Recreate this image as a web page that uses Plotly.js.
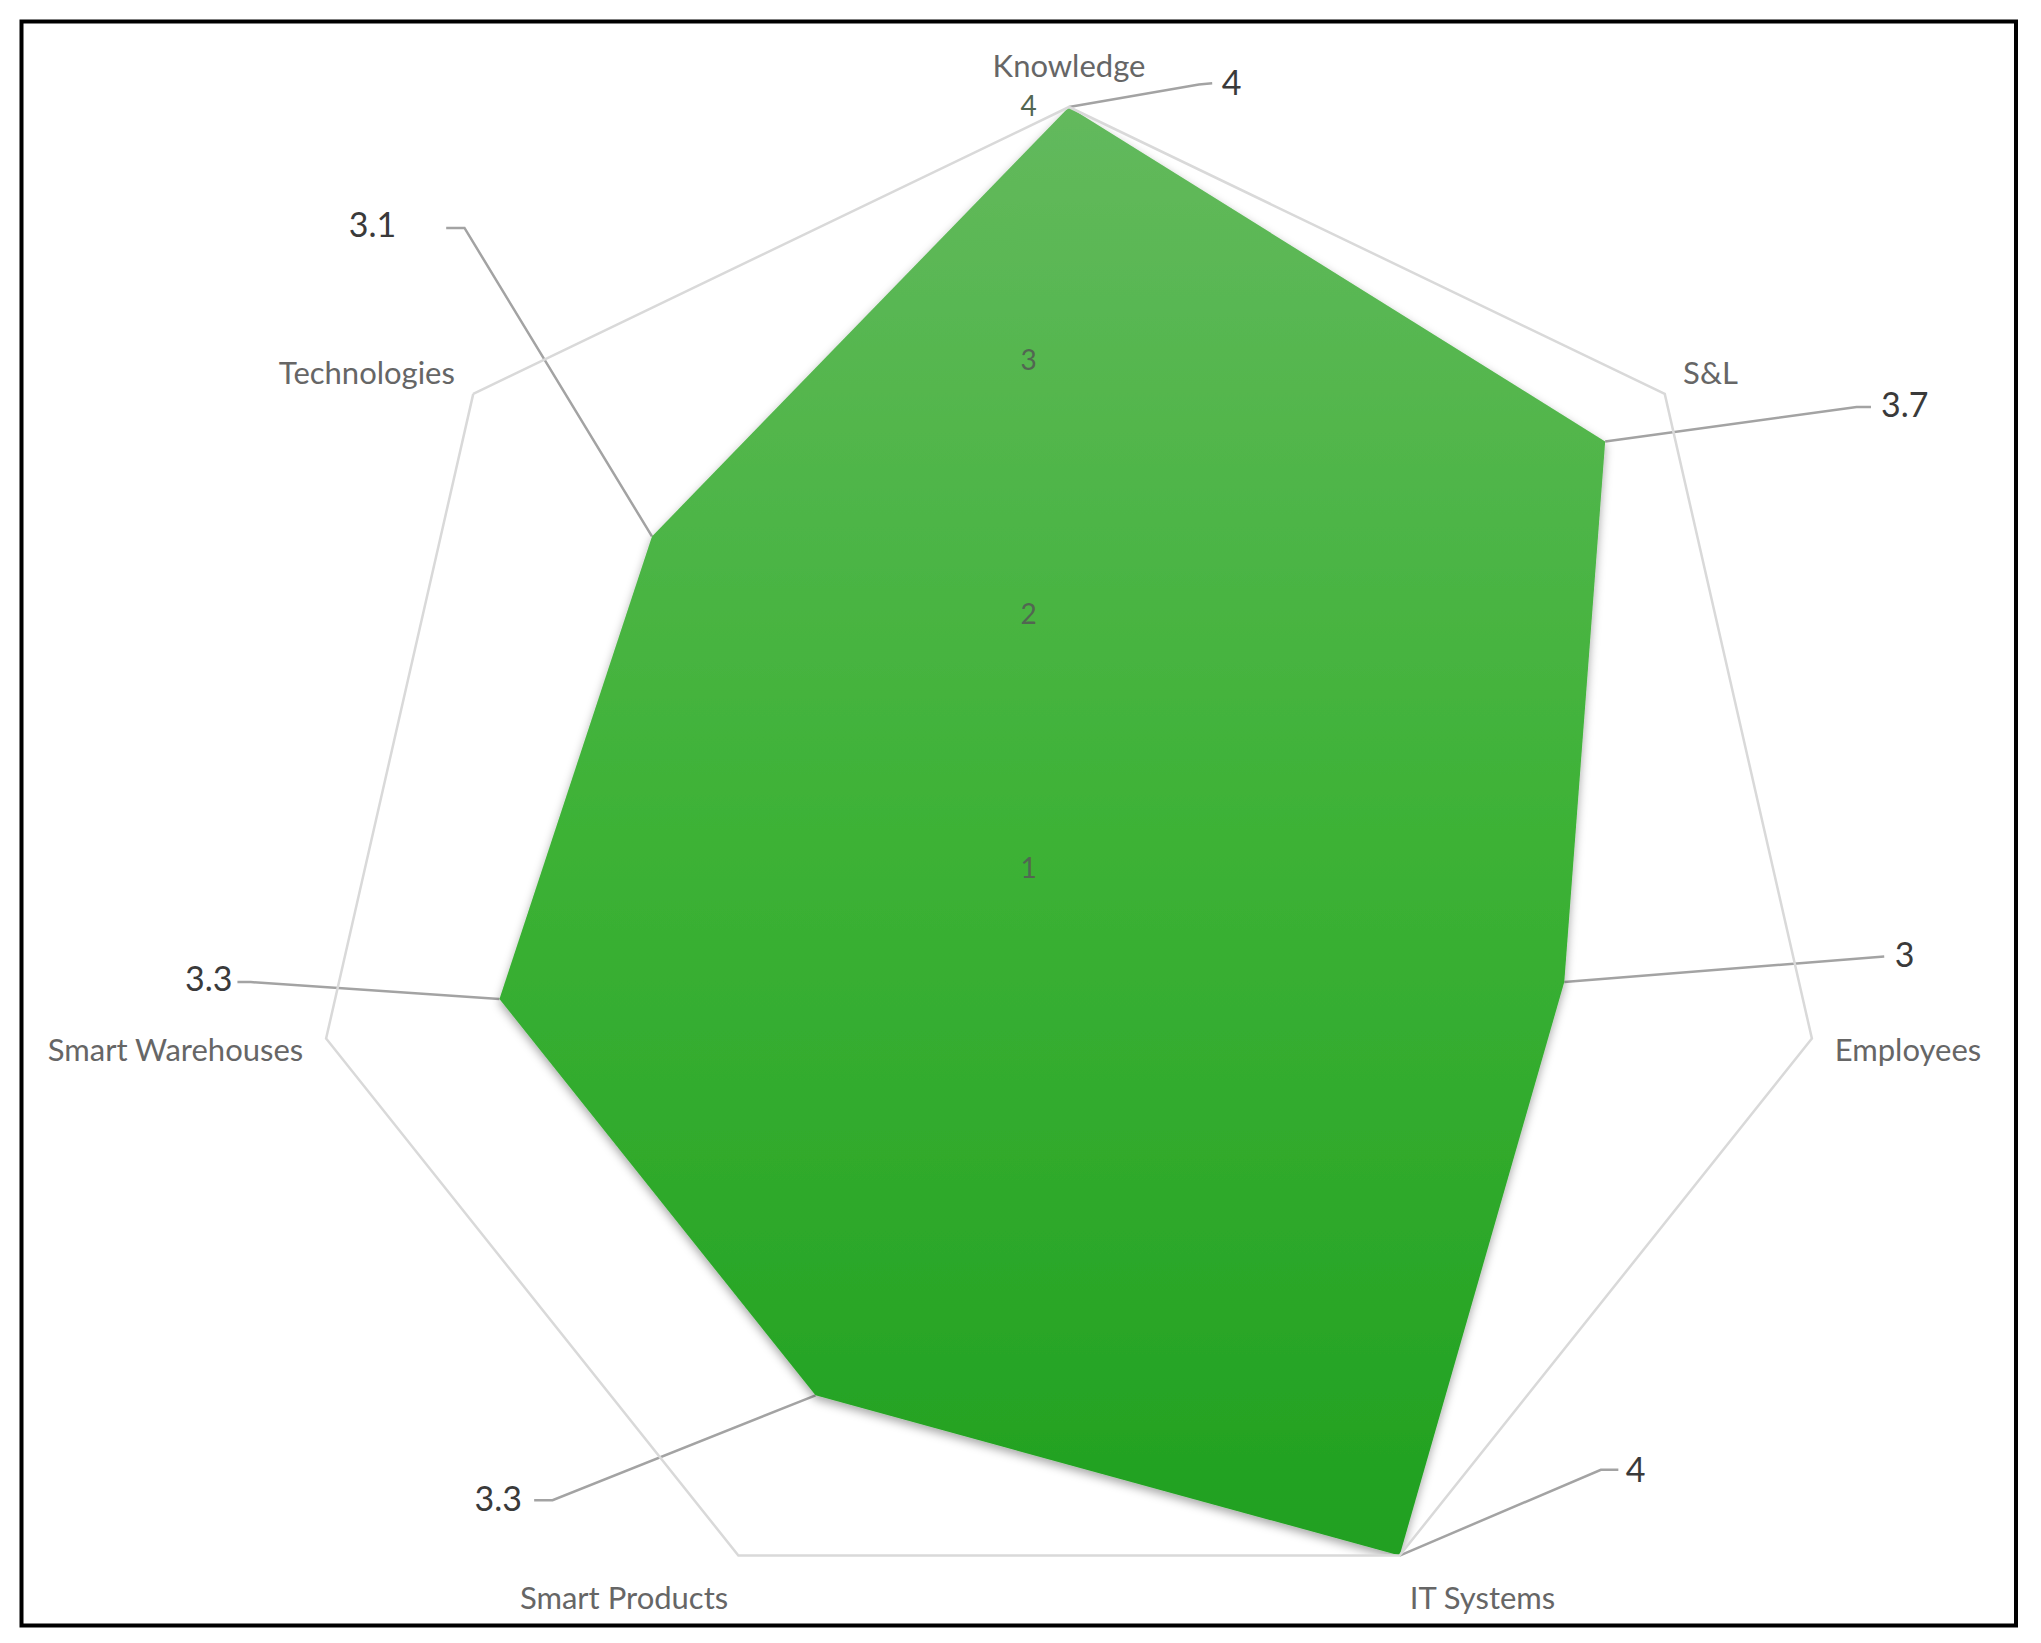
<!DOCTYPE html>
<html>
<head>
<meta charset="utf-8">
<script src="https://cdn.plot.ly/plotly-3.0.1.min.js"></script>
<style>
html,body{margin:0;padding:0;background:#ffffff;}
#chart{width:2041px;height:1643px;}
</style>
</head>
<body>
<div id="chart"></div>
<script>
// ---- data ----
const categories = ['Knowledge', 'S&L', 'Employees', 'IT Systems', 'Smart Products', 'Smart Warehouses', 'Technologies'];
const values = [4, 3.7, 3, 4, 3.3, 3.3, 3.1];
const radialTicks = [1, 2, 3, 4];

// ---- callout (data label) placement, polar coords: r and angle (deg, clockwise from top) ----
const elbowR = [4.131, 4.595, 4.152, 4.159, 4.211, 4.252, 4.469];
const elbowT = [9.4, 59.6, 96.34, 138.48, 219.29, 262.13, 316.68];
const endR   = [4.144, 4.644, 4.228, 4.205, 4.257, 4.304, 4.519];
const endT   = [10.33, 60.05, 96.13, 137.56, 220.28, 262.26, 315.83];
const labelR = [4.147, 4.756, 4.309, 4.262, 4.356, 4.416, 4.724];
const labelT = [11.74, 61.16, 96.11, 136.86, 222.03, 262.51, 312.58];

// ---- geometry ----
const W = 2041, H = 1643;
const CX = 1069, CY = 869, RAD = 762;
const rMin = radialTicks[0], rMax = radialTicks[radialTicks.length - 1];
const PPU = RAD / (rMax - rMin);
const domX = [(CX - RAD) / W, (CX + RAD) / W];
const domY = [(H - CY - RAD) / H, (H - CY + RAD) / H];
const catAngle = categories.map((c, i) => i * 360 / categories.length);

// polar value -> overlay (cartesian, same units as the radial axis) position
function px(r, t) { return (r - rMin) * Math.sin(t * Math.PI / 180); }
function py(r, t) { return (r - rMin) * Math.cos(t * Math.PI / 180); }

const leadX = [], leadY = [];
values.forEach((v, i) => {
  leadX.push(px(v, catAngle[i]), px(elbowR[i], elbowT[i]), px(endR[i], endT[i]), null);
  leadY.push(py(v, catAngle[i]), py(elbowR[i], elbowT[i]), py(endR[i], endT[i]), null);
});

const FONT = 'Lato, "Open Sans", sans-serif';

const traces = [
  {
    type: 'scatter',
    xaxis: 'x', yaxis: 'y',
    x: leadX, y: leadY,
    mode: 'lines',
    connectgaps: false,
    cliponaxis: false,
    line: { color: '#a3a3a3', width: 2.5 },
    hoverinfo: 'skip',
    showlegend: false
  },
  {
    type: 'scatter',
    xaxis: 'x', yaxis: 'y',
    x: labelR.map((r, i) => px(r, labelT[i])),
    y: labelR.map((r, i) => py(r, labelT[i])),
    mode: 'text',
    text: values.map(String),
    textposition: 'middle center',
    textfont: { family: FONT, size: 34, color: '#3a3a3a' },
    cliponaxis: false,
    hoverinfo: 'skip',
    showlegend: false
  },
  {
    type: 'scatterpolar',
    subplot: 'polar',
    r: values.concat([values[0]]),
    theta: categories.concat([categories[0]]),
    mode: 'lines',
    fill: 'toself',
    fillcolor: '#3db135',
    line: { color: 'rgba(0,0,0,0)', width: 0 },
    hoverinfo: 'skip',
    showlegend: false
  }
];

const layout = {
  width: W, height: H,
  margin: { l: 0, r: 0, t: 0, b: 0 },
  paper_bgcolor: '#ffffff',
  plot_bgcolor: 'rgba(0,0,0,0)',
  showlegend: false,
  font: { family: FONT },
  xaxis: {
    domain: [0, 1], range: [-CX / PPU, (W - CX) / PPU],
    visible: false, showgrid: false, zeroline: false, fixedrange: true
  },
  yaxis: {
    domain: [0, 1], range: [-(H - CY) / PPU, CY / PPU],
    visible: false, showgrid: false, zeroline: false, fixedrange: true
  },
  polar: {
    domain: { x: domX, y: domY },
    gridshape: 'linear',
    bgcolor: 'rgba(0,0,0,0)',
    angularaxis: {
      type: 'category',
      categoryarray: categories,
      rotation: 90,
      direction: 'clockwise',
      showgrid: false,
      showline: true,
      linecolor: '#d9d9d9',
      linewidth: 2.5,
      ticks: 'outside',
      ticklen: 16,
      tickcolor: 'rgba(0,0,0,0)',
      tickfont: { family: FONT, size: 31, color: '#666666' }
    },
    radialaxis: {
      range: [rMin, rMax],
      tickvals: radialTicks,
      ticktext: radialTicks.map(String),
      showgrid: false,
      showline: false,
      ticks: 'outside',
      ticklen: 22,
      tickcolor: 'rgba(0,0,0,0)',
      tickangle: 90,
      angle: 90,
      side: 'counterclockwise',
      layer: 'above traces',
      tickfont: { family: FONT, size: 28, color: '#526652' }
    }
  },
  shapes: [{
    type: 'rect', xref: 'paper', yref: 'paper',
    x0: 21.5 / W, x1: 2016 / W, y0: 1 - 1625.5 / H, y1: 1 - 21.5 / H,
    line: { color: '#000000', width: 4 }, fillcolor: 'rgba(0,0,0,0)'
  }]
};

Plotly.newPlot('chart', traces, layout, { staticPlot: true, displayModeBar: false }).then(function (gd) {
  // vertical gradient and soft shadow on the filled area, as in the original
  const ns = 'http://www.w3.org/2000/svg';
  const svg = gd.querySelector('svg.main-svg');
  let defs = svg.querySelector('defs');
  if (!defs) { defs = document.createElementNS(ns, 'defs'); svg.insertBefore(defs, svg.firstChild); }
  const lg = document.createElementNS(ns, 'linearGradient');
  lg.setAttribute('id', 'areaGrad');
  lg.setAttribute('x1', '0'); lg.setAttribute('y1', '0');
  lg.setAttribute('x2', '0'); lg.setAttribute('y2', '1');
  [['0', '#63b95d'], ['0.5', '#3db236'], ['1', '#20a020']].forEach(function (s) {
    const st = document.createElementNS(ns, 'stop');
    st.setAttribute('offset', s[0]); st.setAttribute('stop-color', s[1]);
    lg.appendChild(st);
  });
  defs.appendChild(lg);
  const f = document.createElementNS(ns, 'filter');
  f.setAttribute('id', 'areaShadow');
  f.setAttribute('x', '-10%'); f.setAttribute('y', '-10%');
  f.setAttribute('width', '120%'); f.setAttribute('height', '125%');
  const ds = document.createElementNS(ns, 'feDropShadow');
  ds.setAttribute('dx', '0'); ds.setAttribute('dy', '4');
  ds.setAttribute('stdDeviation', '5');
  ds.setAttribute('flood-color', '#000000'); ds.setAttribute('flood-opacity', '0.35');
  f.appendChild(ds);
  defs.appendChild(f);
  gd.querySelectorAll('.polarlayer path.js-fill').forEach(function (p) {
    p.style.fill = 'url(#areaGrad)';
    p.setAttribute('filter', 'url(#areaShadow)');
  });
});
</script>
</body>
</html>
